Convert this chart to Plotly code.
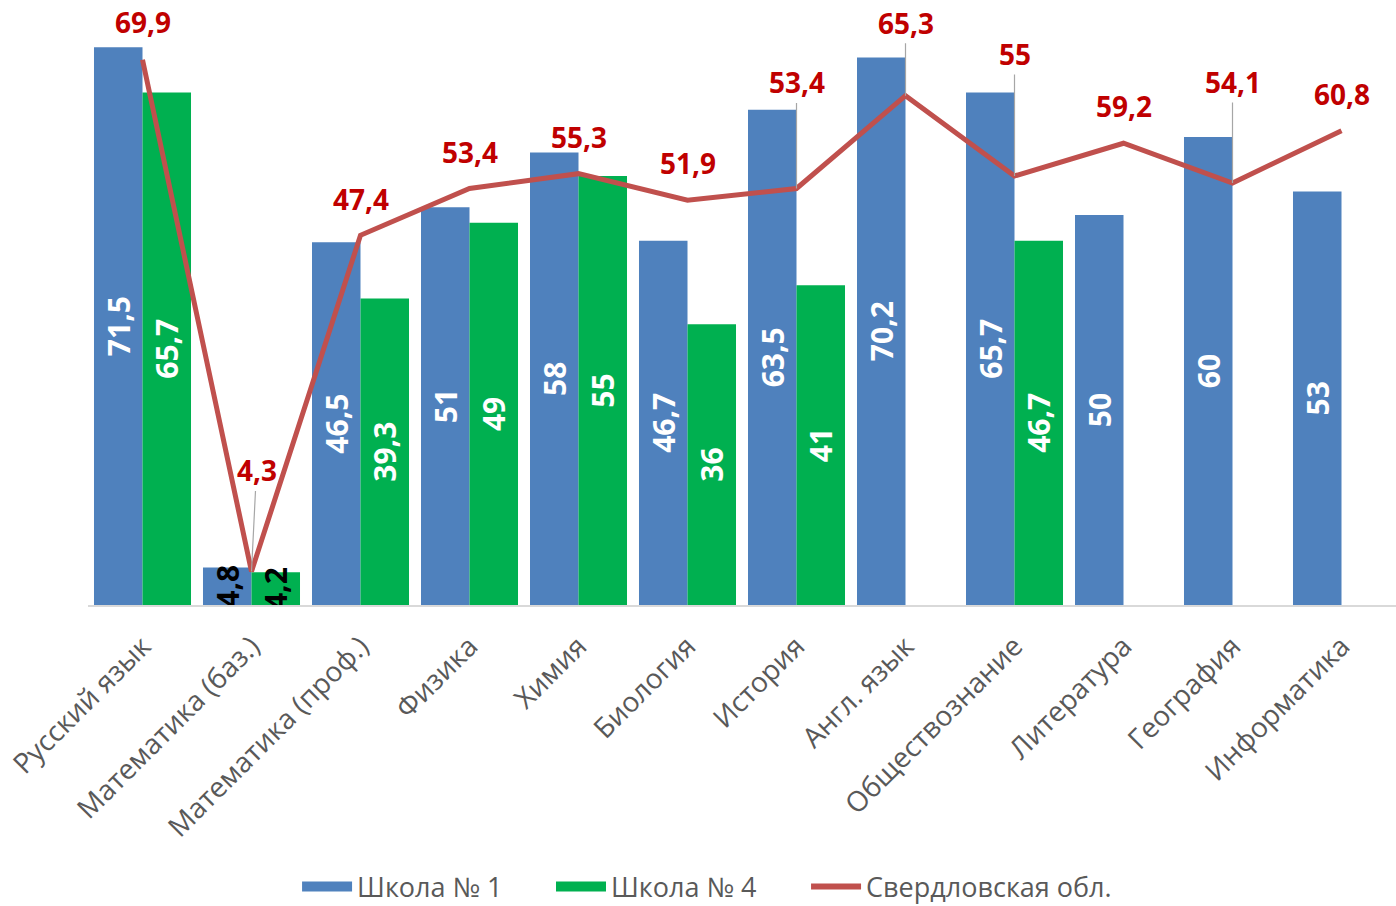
import plotly.graph_objects as go

categories = ["Русский язык", "Математика (баз.)", "Математика (проф.)", "Физика", "Химия",
              "Биология", "История", "Англ. язык", "Обществознание", "Литература",
              "География", "Информатика"]
school1 = [71.5, 4.8, 46.5, 51, 58, 46.7, 63.5, 70.2, 65.7, 50, 60, 53]
school4 = [65.7, 4.2, 39.3, 49, 55, 36, 41, None, 46.7, None, None, None]
region = [69.9, 4.3, 47.4, 53.4, 55.3, 51.9, 53.4, 65.3, 55, 59.2, 54.1, 60.8]
series_names = ["Школа № 1", "Школа № 4", "Свердловская обл."]

# label placement style for line labels: (x pixel offset, y pixel offset, leader line)
label_offsets = [(0, -38, False), (5, -101, True), (0, -36, False), (0, -36, False),
                 (0, -37, False), (0, -37, False), (0, -106, True), (0, -73, True),
                 (0, -122, True), (0, -37, False), (0, -101, True), (0, -37, False)]
# legend entry left positions (fraction of page width)
legend_x = [0.2128, 0.3947, 0.5774]


def fmt(v):
    return "" if v is None else f"{v:g}".replace(".", ",")


FONT = "Open Sans"
BLUE = "#4F81BD"
GREEN = "#00B050"
RED = "#C0504D"
GREY = "#595959"

fig = go.Figure()

for vals, name, color in [(school1, series_names[0], BLUE), (school4, series_names[1], GREEN)]:
    fig.add_trace(go.Bar(
        x=categories, y=vals, name=name,
        marker=dict(color=color, line=dict(width=0)),
        text=[f"<b>{fmt(v)}</b>" if v is not None else "" for v in vals],
        textposition="inside", textangle=-90,
        insidetextanchor="middle", constraintext="none",
        insidetextfont=dict(family=FONT, size=30,
                            color=["black" if (v is not None and v < 10) else "white" for v in vals]),
        showlegend=False,
    ))

fig.add_trace(go.Scatter(
    x=categories, y=region, name=series_names[2], mode="lines",
    line=dict(color=RED, width=5), showlegend=False,
))

# legend entries, each in its own legend box
legend_ids = ["legend", "legend2", "legend3"]
for lid, name, color, w in zip(legend_ids, series_names, [BLUE, GREEN, RED], [18, 18, 6]):
    fig.add_trace(go.Scatter(x=[None], y=[None], mode="lines", name=name, legend=lid,
                             line=dict(color=color, width=w), showlegend=True))

for c, v, (dx, dy, lead) in zip(categories, region, label_offsets):
    if lead:
        fig.add_annotation(x=c, y=v, text=f"<b>{fmt(v)}</b>", showarrow=True, arrowhead=0,
                           arrowwidth=1.2, arrowcolor="#A6A6A6", ax=dx, ay=dy, standoff=0,
                           font=dict(family=FONT, size=28, color="#C00000"))
    else:
        fig.add_annotation(x=c, y=v, text=f"<b>{fmt(v)}</b>", showarrow=False,
                           xshift=dx, yshift=-dy,
                           font=dict(family=FONT, size=28, color="#C00000"))

legend_style = dict(orientation="h", xref="container", yref="container",
                    xanchor="left", y=0.021, yanchor="middle",
                    font=dict(family=FONT, size=27, color=GREY), itemwidth=50)

fig.update_layout(
    width=1396, height=906,
    margin=dict(l=88, r=0, t=20, b=301),
    paper_bgcolor="white", plot_bgcolor="white",
    barmode="group", bargap=0.11, bargroupgap=0,
    font=dict(family=FONT, color=GREY),
    showlegend=True,
    legend=dict(x=legend_x[0], **legend_style),
    legend2=dict(x=legend_x[1], **legend_style),
    legend3=dict(x=legend_x[2], **legend_style),
    xaxis=dict(tickangle=-45, tickfont=dict(family=FONT, size=28, color=GREY),
               showline=True, linecolor="#D9D9D9", linewidth=1.5, showgrid=False,
               ticks="", ticklabelstandoff=12, automargin=False),
    yaxis=dict(range=[0, 75], visible=False, showgrid=False, zeroline=False, automargin=False),
)

fig.write_html("out.html", config={"displayModeBar": False},
               post_script="document.body.style.margin='0px';")
